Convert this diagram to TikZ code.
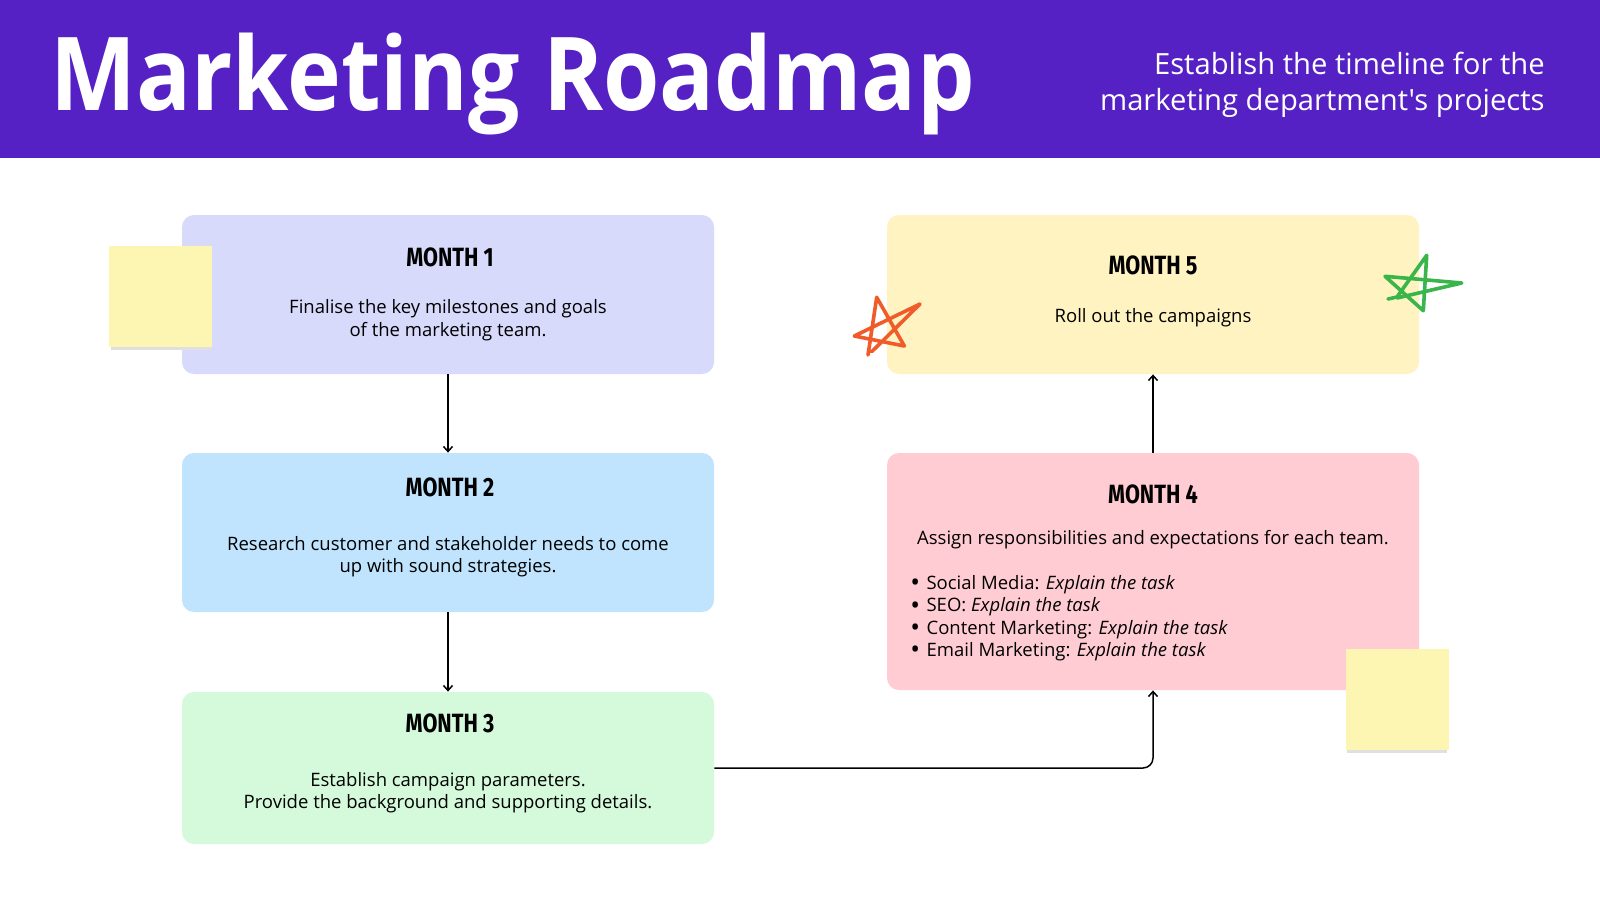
\documentclass[tikz,border=0pt]{standalone}
\usepackage{fontspec}
\setmainfont{Open Sans}
\newfontfamily\titlefont{Open Sans}[FakeStretch=0.893]
\newfontfamily\subfont{Open Sans}
\newfontfamily\monthfont{Fira Sans}[FakeStretch=0.82]
\usetikzlibrary{arrows.meta}
\definecolor{hdr}{HTML}{5521C4}
\definecolor{mone}{HTML}{D8DAFC}
\definecolor{mtwo}{HTML}{C0E4FD}
\definecolor{mthree}{HTML}{D4FADB}
\definecolor{mfour}{HTML}{FFCCD3}
\definecolor{mfive}{HTML}{FFF3C2}
\definecolor{sticky}{HTML}{FCF6B2}
\definecolor{redstar}{HTML}{F15A29}
\definecolor{greenstar}{HTML}{39B54A}
\newcommand{\bigbul}{\smash{\raisebox{-0.25ex}{\fontsize{13}{11}\selectfont\textbullet}}\hspace{3.2pt}}
\tikzset{
  monthbox/.style={rounded corners=6pt, minimum width=266pt, inner sep=0pt, draw=none},
  mtitle/.style={inner sep=0pt, font=\monthfont\bfseries\fontsize{13.2}{14}\selectfont},
  mbody/.style={inner sep=0pt, align=center, font=\fontsize{9.25}{11.2}\selectfont},
  conn/.style={draw=black, line width=0.75pt, -{Straight Barb[length=2.5pt,width=4.5pt]}},
  starline/.style={line width=1.8pt, line cap=round, line join=round},
  stickynote/.style={fill=sticky, minimum width=51.5pt, minimum height=50.5pt, inner sep=0pt},
  stickyshadow/.style={fill=black!12, minimum width=50pt, minimum height=50pt, inner sep=0pt}
}
\begin{document}
\begin{tikzpicture}[x=0.5pt, y=-0.5pt]
\useasboundingbox (0,0) rectangle (1600,900);
\fill[white] (0,0) rectangle (1600,900);
% header
\fill[hdr] (0,0) rectangle (1600,158);
\node[anchor=base west, inner sep=0pt, text=white] (title) at (50,110)
  {\titlefont\bfseries\fontsize{51}{51}\selectfont Marketing Roadmap};
\node[anchor=north east, inner sep=0pt, align=right, text=white,
  font=\subfont\fontsize{14.6}{18}\selectfont] (subtitle) at (1545,52)
  {Establish the timeline for the\\marketing department's projects};

% boxes
\node[monthbox, fill=mone, minimum height=79.5pt] (m1) at (448,294.5) {};
\node[monthbox, fill=mtwo, minimum height=79.5pt] (m2) at (448,532.5) {};
\node[monthbox, fill=mthree, minimum height=76pt] (m3) at (448,768) {};
\node[monthbox, fill=mfour, minimum height=118.5pt] (m4) at (1153,571.5) {};
\node[monthbox, fill=mfive, minimum height=79.5pt] (m5) at (1153,294.5) {};

% sticky notes
\node[stickyshadow] (s1shadow) at (161,300) {};
\node[stickynote] (s1) at (160.5,296.5) {};
\node[stickyshadow] (s2shadow) at (1397,703) {};
\node[stickynote] (s2) at (1397,699.5) {};

% texts
\node[mtitle] (t1) at (450,257) {MONTH 1};
\node[mbody] (b1) at (448,320) {Finalise the key milestones and goals\\of the marketing team.};
\node[mtitle] (t2) at (450,487) {MONTH 2};
\node[mbody] (b2) at (448,556.5) {Research customer and stakeholder needs to come\\up with sound strategies.};
\node[mtitle] (t3) at (450,723) {MONTH 3};
\node[mbody] (b3) at (448,792.5) {Establish campaign parameters.\\Provide the background and supporting details.};
\node[mtitle] (t4) at (1153,494) {MONTH 4};
\node[mbody] (b4) at (1153,540) {Assign responsibilities and expectations for each team.};
\node[mbody, align=left, anchor=west] (b4list) at (910,618)
  {\bigbul Social Media: \textit{Explain the task}\\
   \bigbul SEO: \textit{Explain the task}\\
   \bigbul Content Marketing: \textit{Explain the task}\\
   \bigbul Email Marketing: \textit{Explain the task}};
\node[mtitle] (t5) at (1153,265) {MONTH 5};
\node[mbody] (b5) at (1153,318) {Roll out the campaigns};

% connectors
\draw[conn] (m1.south) -- (m2.north);
\draw[conn] (m2.south) -- (m3.north);
\draw[conn, rounded corners=5pt] (m3.east) -| (m4.south);
\draw[conn] (m4.north) -- (m5.south);

% stars
\draw[starline, draw=redstar] (868,355) -- (876.7,297.3) -- (904.3,346) -- (854.3,336) -- (920,304) -- (871.7,351.7);
\draw[starline, draw=greenstar] (1388,299) -- (1397,297) -- (1426.7,255.3) -- (1423.3,310.7) -- (1385,276.3) -- (1461.7,283) -- (1397,298);
\end{tikzpicture}
\end{document}
